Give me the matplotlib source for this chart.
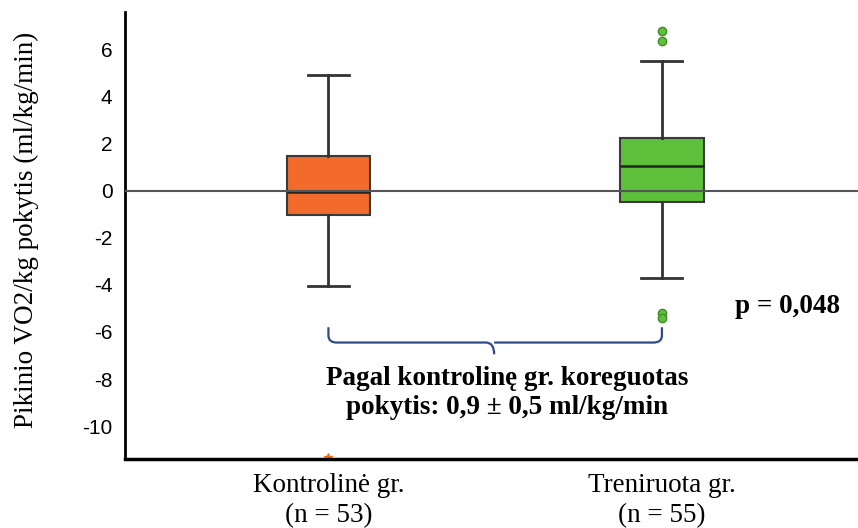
import matplotlib.pyplot as plt
from matplotlib.path import Path
from matplotlib.patches import PathPatch

# box statistics per group (ml/kg/min)
groups = ["Kontrolinė gr.\n(n = 53)", "Treniruota gr.\n(n = 55)"]
whislo = [-4.04, -3.71]
q1 = [-1.02, -0.46]
med = [-0.07, 1.06]
q3 = [1.46, 2.24]
whishi = [4.91, 5.52]
fliers = [[-11.3], [6.78, 6.35, -5.2, -5.4]]
colors = ["#F26A2C", "#5DBF3A"]
yticks = [6, 4, 2, 0, -2, -4, -6, -8, -10]

serif = "Liberation Serif"

fig = plt.figure(figsize=(8.58, 5.28), dpi=100)
ax = fig.add_axes([0.1457, 0.1307, 0.8543, 0.8466])

stats = []
for i in range(2):
    stats.append(dict(whislo=whislo[i], q1=q1[i], med=med[i], q3=q3[i],
                      whishi=whishi[i], fliers=fliers[i]))

pos = [1, 2]
bp = ax.bxp(stats, positions=pos, widths=0.25, capwidths=0.123,
            patch_artist=True, showfliers=True,
            whiskerprops=dict(color="#333333", lw=2),
            capprops=dict(color="#333333", lw=2),
            medianprops=dict(color="#222222", lw=1.8),
            boxprops=dict(edgecolor="#3a3a3a", lw=1.5))
for patch, c in zip(bp["boxes"], colors):
    patch.set_facecolor(c)
bp["fliers"][0].set(marker="*", markersize=5.5, markerfacecolor=colors[0],
                    markeredgecolor=colors[0], clip_on=False)
bp["fliers"][1].set(marker="o", markersize=6, markerfacecolor=colors[1],
                    markeredgecolor="#3f8f22", markeredgewidth=1)

ax.axhline(0, color="#555555", lw=1.5, zorder=5)

ax.set_xlim(0.39, 2.588)
ax.set_ylim(-11.4, 7.6)
ax.set_yticks(yticks)
ax.set_yticklabels([str(t) for t in yticks])
ax.tick_params(axis="y", length=0, pad=9, labelsize=15)
ax.tick_params(axis="x", length=0, pad=10)
ax.set_xticks(pos)
ax.set_xticklabels(groups, fontfamily=serif, fontsize=19.5, linespacing=1.28)
for lab in ax.get_yticklabels():
    lab.set_fontfamily("Liberation Sans")

for s in ["top", "right"]:
    ax.spines[s].set_visible(False)
ax.spines["left"].set_linewidth(2)
ax.spines["bottom"].set_linewidth(2.5)

ax.set_ylabel("Pikinio VO2/kg pokytis (ml/kg/min)", fontfamily=serif,
              fontsize=19.5, va="center")
ax.yaxis.set_label_coords(-0.135, 0.512)

# curly brace between the two groups
x0, x1 = pos
xm = (x0 + x1) / 2 - 0.003
ytop, ybar, ytip = -5.8, -6.45, -6.95
rx, ry = 0.025, 0.3
verts = [(x0, ytop), (x0, ybar + ry), (x0, ybar), (x0 + rx, ybar),
         (xm - rx, ybar), (xm, ybar), (xm, ytip),
         (xm, ybar), (xm + rx, ybar),
         (x1 - rx, ybar), (x1, ybar), (x1, ybar + ry), (x1, ytop)]
codes = [Path.MOVETO, Path.LINETO, Path.CURVE3, Path.CURVE3,
         Path.LINETO, Path.CURVE3, Path.CURVE3,
         Path.MOVETO, Path.CURVE3,
         Path.LINETO, Path.CURVE3, Path.CURVE3, Path.LINETO]
ax.add_patch(PathPatch(Path(verts, codes), fill=False, edgecolor="#2E4A8B",
                       lw=1.6, zorder=4))

ax.text(1.535, -8.6, "Pagal kontrolinę gr. koreguotas\npokytis: 0,9 ± 0,5 ml/kg/min",
        ha="center", va="center", fontfamily=serif, fontweight="bold",
        fontsize=19.5, linespacing=1.22)
ax.text(2.378, -4.92, "p = 0,048", ha="center", va="center",
        fontfamily=serif, fontweight="bold", fontsize=19.5)

fig.savefig("out.png", dpi=100)
